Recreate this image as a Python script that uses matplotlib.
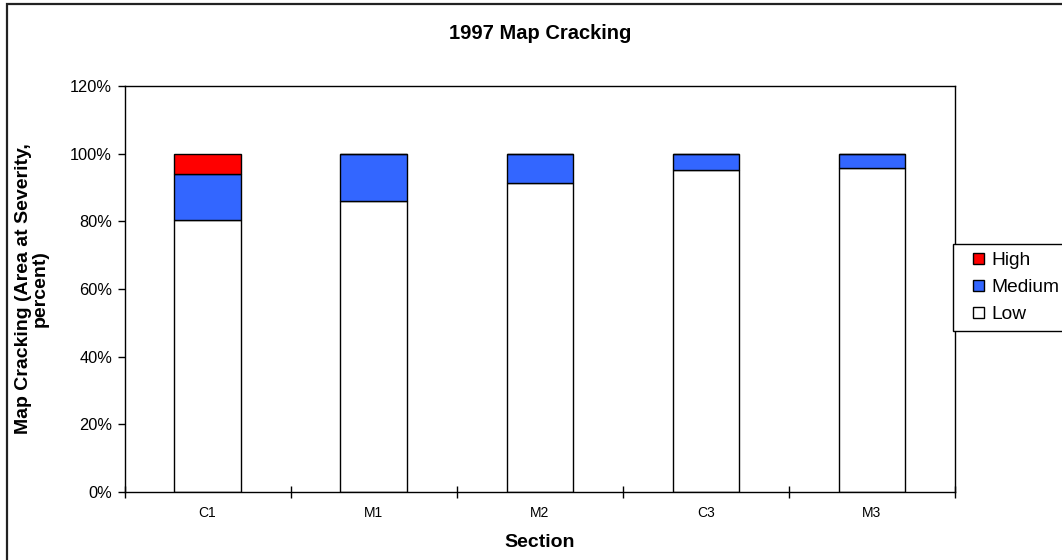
import matplotlib
matplotlib.use("Agg")
import matplotlib.pyplot as plt
from matplotlib.patches import Rectangle, Patch
from matplotlib.legend_handler import HandlerPatch
from matplotlib.ticker import FuncFormatter, FixedLocator

plt.rcParams['font.family'] = ['Liberation Sans', 'DejaVu Sans']

# Share of mapped area at each cracking severity, by section
sections = ["C1", "M1", "M2", "C3", "M3"]
low = [0.805, 0.861, 0.914, 0.952, 0.958]
medium = [0.135, 0.139, 0.086, 0.048, 0.042]
high = [0.060, 0.0, 0.0, 0.0, 0.0]

W, H = 1062, 560
fig = plt.figure(figsize=(W / 100, H / 100), dpi=100)

# outer chart border
fig.patches.append(Rectangle((7 / W, -0.05), 1.2, 1 - 4 / H + 0.05,
                             transform=fig.transFigure, fill=False,
                             edgecolor='#222222', linewidth=1.6))

ax = fig.add_axes([124.5 / W, (H - 492) / H, 830.5 / W, 406 / H])

x = list(range(len(sections)))
bar_w = 0.4
edge = dict(edgecolor='black', linewidth=1.0)
ax.bar(x, low, width=bar_w, color='white', label='Low', **edge)
ax.bar(x, medium, width=bar_w, bottom=low, color='#3366FF', label='Medium', **edge)
bottom_high = [l + m for l, m in zip(low, medium)]
ax.bar(x, high, width=bar_w, bottom=bottom_high, color='#FF0000', label='High', **edge)

ax.set_xlim(-0.5, len(sections) - 0.5)
ax.set_ylim(0, 1.2)

ax.set_xticks(x)
ax.set_xticklabels(sections, fontsize=10)
ax.tick_params(axis='x', which='major', length=0, pad=10)
ax.xaxis.set_minor_locator(FixedLocator([i - 0.5 for i in range(len(sections) + 1)]))
ax.tick_params(axis='x', which='minor', direction='inout', length=8, width=1)

ax.set_yticks([0, 0.2, 0.4, 0.6, 0.8, 1.0, 1.2])
ax.yaxis.set_major_formatter(FuncFormatter(lambda v, p: f"{v * 100:.0f}%"))
ax.tick_params(axis='y', direction='out', length=5, width=1, labelsize=11.8, pad=4)

for s in ax.spines.values():
    s.set_color('black')
    s.set_linewidth(1.0)

ax.set_xlabel("Section", fontsize=14, fontweight='bold', labelpad=10)
ax.set_ylabel("Map Cracking (Area at Severity,\npercent)", fontsize=14,
              fontweight='bold', labelpad=15, linespacing=1.0)
ax.set_title("1997 Map Cracking", fontsize=14.5, fontweight='bold', pad=34)


def small_square(legend, orig_handle, xdescent, ydescent, width, height, fontsize):
    side = 8.0
    return Rectangle((-xdescent + width - side, -ydescent + (height - side) / 2),
                     side, side)


handles = [Patch(facecolor='#FF0000', edgecolor='black', label='High'),
           Patch(facecolor='#3366FF', edgecolor='black', label='Medium'),
           Patch(facecolor='white', edgecolor='black', label='Low')]
leg = fig.legend(handles=handles, loc='upper left',
                 bbox_to_anchor=(953 / W, 1 - 244 / H), fontsize=13.8,
                 frameon=True, fancybox=False, framealpha=1,
                 handler_map={Patch: HandlerPatch(patch_func=small_square)},
                 handlelength=1.2, handleheight=0.7, handletextpad=0.42,
                 labelspacing=0.5, borderpad=0.4, borderaxespad=0)
leg.get_frame().set_edgecolor('black')
leg.get_frame().set_linewidth(1.0)

fig.savefig("out.png", dpi=100)
